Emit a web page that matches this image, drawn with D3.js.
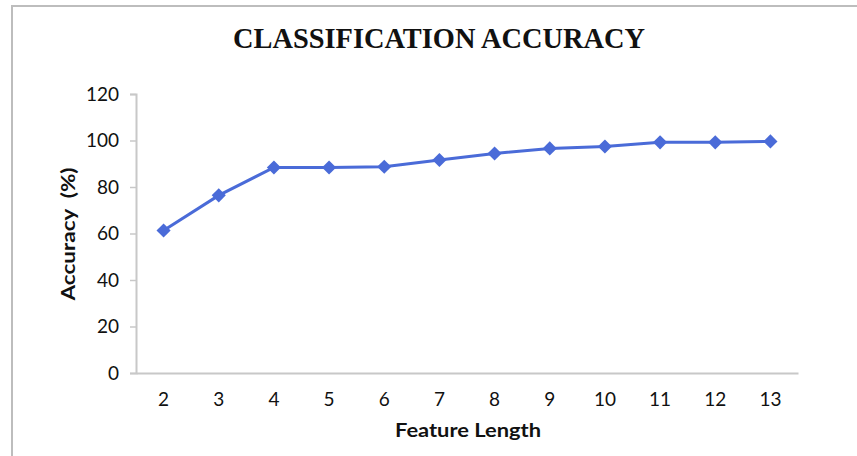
<!DOCTYPE html>
<html>
<head>
<meta charset="utf-8">
<script src="https://cdn.jsdelivr.net/npm/d3@7"></script>
<style>
  html, body { margin: 0; padding: 0; background: #fff; }
  svg { display: block; }
</style>
</head>
<body>
<svg id="chart" width="857" height="456"></svg>
<script>
// Accuracy per feature length
const featureLengths = ["2", "3", "4", "5", "6", "7", "8", "9", "10", "11", "12", "13"];
const accuracy = [61.3, 76.4, 88.4, 88.4, 88.7, 91.6, 94.4, 96.6, 97.4, 99.2, 99.2, 99.6];
const yTicks = [0, 20, 40, 60, 80, 100, 120];

const svg = d3.select("#chart");
const W = 857, H = 456;
const margin = { left: 136, right: 59, top: 94, bottom: 83 };

const blue = "#4a6bd8";
const axisGray = "#c8c8c8";
const labelFont = "Lato, 'DejaVu Sans', sans-serif";

// outer frame (top and left edges)
svg.append("path")
  .attr("d", `M12,${H} L12,6 L${W},6`)
  .attr("fill", "none")
  .attr("stroke", "#bdbdbd")
  .attr("stroke-width", 2);

const x = d3.scaleBand()
  .domain(featureLengths)
  .range([margin.left, W - margin.right])
  .paddingInner(0)
  .paddingOuter(0);

const y = d3.scaleLinear()
  .domain([0, 120])
  .range([H - margin.bottom, margin.top]);

// title
svg.append("text")
  .attr("x", 439)
  .attr("y", 48)
  .attr("text-anchor", "middle")
  .attr("font-family", "'Liberation Serif', 'Times New Roman', serif")
  .attr("font-weight", "bold")
  .attr("font-size", 30)
  .attr("textLength", 412)
  .attr("lengthAdjust", "spacingAndGlyphs")
  .attr("fill", "#111")
  .text("CLASSIFICATION ACCURACY");

// y axis
const yAxis = svg.append("g")
  .attr("transform", `translate(${margin.left},0)`)
  .call(d3.axisLeft(y).tickValues(yTicks).tickSize(6).tickPadding(11));
yAxis.select(".domain").attr("stroke", axisGray).attr("stroke-width", 2);
yAxis.selectAll(".tick line").attr("stroke", axisGray).attr("stroke-width", 1.5);
yAxis.selectAll(".tick text")
  .attr("font-family", labelFont)
  .attr("font-size", 19)
  .attr("fill", "#111");

// x axis
const xAxis = svg.append("g")
  .attr("transform", `translate(0,${H - margin.bottom})`)
  .call(d3.axisBottom(x).tickSize(0).tickPadding(20));
xAxis.select(".domain").attr("stroke", axisGray).attr("stroke-width", 2);
xAxis.selectAll(".tick text")
  .attr("font-family", labelFont)
  .attr("font-size", 19)
  .attr("fill", "#111");

// axis titles
svg.append("text")
  .attr("transform", `translate(75,234) rotate(-90)`)
  .attr("text-anchor", "middle")
  .attr("font-family", labelFont)
  .attr("font-weight", "bold")
  .attr("font-size", 18)
  .attr("textLength", 133)
  .attr("lengthAdjust", "spacingAndGlyphs")
  .attr("fill", "#111")
  .attr("xml:space", "preserve")
  .text("Accuracy  (%)");

svg.append("text")
  .attr("x", 468)
  .attr("y", 437)
  .attr("text-anchor", "middle")
  .attr("font-family", labelFont)
  .attr("font-weight", "bold")
  .attr("font-size", 18)
  .attr("textLength", 146)
  .attr("lengthAdjust", "spacingAndGlyphs")
  .attr("fill", "#111")
  .text("Feature Length");

// series line
const pts = featureLengths.map((k, i) => ({ k, v: accuracy[i] }));
const cx = d => x(d.k) + x.bandwidth() / 2;

svg.append("path")
  .datum(pts)
  .attr("fill", "none")
  .attr("stroke", blue)
  .attr("stroke-width", 3)
  .attr("d", d3.line().x(cx).y(d => y(d.v)));

// diamond markers
const diamond = d3.symbol().type(d3.symbolSquare).size(100);
svg.selectAll(".marker")
  .data(pts)
  .join("path")
  .attr("class", "marker")
  .attr("d", diamond)
  .attr("fill", blue)
  .attr("transform", d => `translate(${cx(d)},${y(d.v)}) rotate(45)`);
</script>
</body>
</html>
